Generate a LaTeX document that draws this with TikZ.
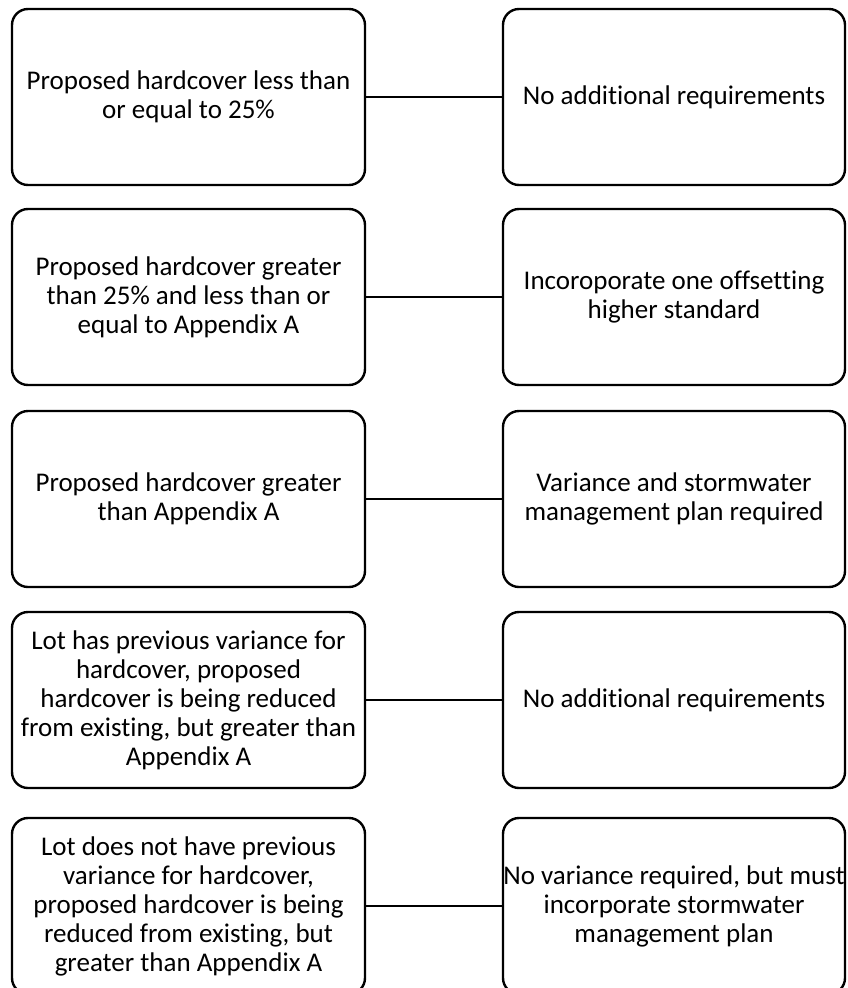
\documentclass[tikz,border=0pt]{standalone}
\usepackage{fontspec}
\setmainfont{Carlito}[Ligatures={NoCommon}]
\begin{document}
\begin{tikzpicture}[x=1pt,y=-1pt,
  box/.style={draw=black, line width=2.4pt, rounded corners=16pt, minimum height=176pt, align=center, inner sep=0pt, font=\fontsize{27}{29}\selectfont},
  lbox/.style={box, minimum width=353pt},
  rbox/.style={box, minimum width=342pt},
  conn/.style={draw=black, line width=2.4pt}]
\useasboundingbox (0,0) rectangle (847,988);
\node[lbox] (l1) at (188.5,97) {Proposed hardcover less than\\or equal to 25\%};
\node[rbox] (r1) at (674,97) {No additional requirements};
\node[lbox] (l2) at (188.5,297) {Proposed hardcover greater\\than 25\% and less than or\\equal to Appendix A};
\node[rbox] (r2) at (674,297) {Incoroporate one offsetting\\higher standard};
\node[lbox] (l3) at (188.5,499) {Proposed hardcover greater\\than Appendix A};
\node[rbox] (r3) at (674,499) {Variance and stormwater\\management plan required};
\node[lbox] (l4) at (188.5,700) {Lot has previous variance for\\hardcover, proposed\\hardcover is being reduced\\from existing, but greater than\\Appendix A};
\node[rbox] (r4) at (674,700) {No additional requirements};
\node[lbox] (l5) at (188.5,906) {Lot does not have previous\\variance for hardcover,\\proposed hardcover is being\\reduced from existing, but\\greater than Appendix A};
\node[rbox] (r5) at (674,906) {No variance required, but must\\incorporate stormwater\\management plan};
\foreach \i in {1,...,5} {\draw[conn] (l\i.east) -- (r\i.west);}
\end{tikzpicture}
\end{document}
